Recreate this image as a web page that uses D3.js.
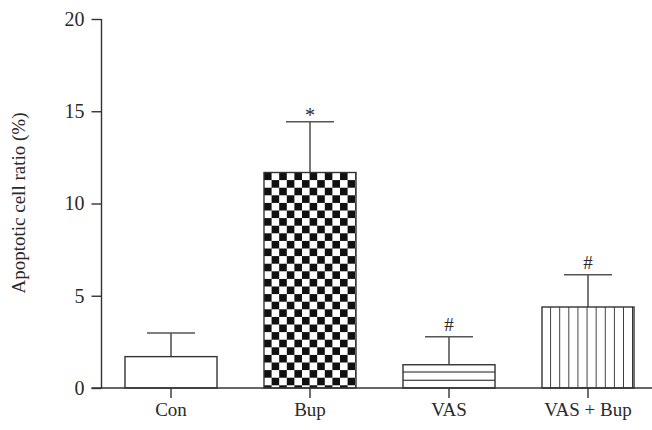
<!DOCTYPE html>
<html>
<head>
<meta charset="utf-8">
<script src="https://cdnjs.cloudflare.com/ajax/libs/d3/7.8.5/d3.min.js"></script>
<style>
  body { margin: 0; background: #fff; }
  text { font-family: "Liberation Serif", "DejaVu Serif", serif; fill: #2a2a2a; }
</style>
</head>
<body>
<div id="chart"></div>
<script>
// data
var groups = ["Con", "Bup", "VAS", "VAS + Bup"];
var means  = [1.70, 11.68, 1.26, 4.39];
var errs   = [1.28, 2.75, 1.52, 1.75];
var marks  = ["", "*", "#", "#"];
var fills  = ["none", "checker", "hlines", "vlines"];
var yTicks = [0, 5, 10, 15, 20];

var W = 652, H = 430;
var x0 = 101.5, yBase = 388, yTop = 19;

var svg = d3.select("#chart").append("svg")
  .attr("width", W).attr("height", H);

var x = d3.scaleBand().domain(groups).range([x0, x0 + 139 * 4]).paddingInner(0.338).paddingOuter(0.169);
var y = d3.scaleLinear().domain([0, 20]).range([yBase, yTop]);

var defs = svg.append("defs");
var cell = 7.6;

// checkerboard, anchored at top-left of Bup bar
var chk = defs.append("pattern").attr("id", "checker")
  .attr("patternUnits", "userSpaceOnUse")
  .attr("x", x("Bup")).attr("y", y(means[1]))
  .attr("width", cell * 2).attr("height", cell * 2);
chk.append("rect").attr("width", cell * 2).attr("height", cell * 2).attr("fill", "#fff");
chk.append("rect").attr("width", cell).attr("height", cell).attr("fill", "#111");
chk.append("rect").attr("x", cell).attr("y", cell).attr("width", cell).attr("height", cell).attr("fill", "#111");

// horizontal lines
var hp = defs.append("pattern").attr("id", "hlines")
  .attr("patternUnits", "userSpaceOnUse")
  .attr("x", 0).attr("y", yBase - 7.3 - 8.2)
  .attr("width", 10).attr("height", 8.2);
hp.append("rect").attr("width", 10).attr("height", 8.2).attr("fill", "#fff");
hp.append("rect").attr("y", 7.2).attr("width", 10).attr("height", 2).attr("fill", "#111");

// vertical lines
var vp = defs.append("pattern").attr("id", "vlines")
  .attr("patternUnits", "userSpaceOnUse")
  .attr("x", x("VAS + Bup")).attr("y", 0)
  .attr("width", 9.1).attr("height", 10);
vp.append("rect").attr("width", 9.1).attr("height", 10).attr("fill", "#fff");
vp.append("rect").attr("x", 8.3).attr("width", 1.9).attr("height", 10).attr("fill", "#111");

// error bars (drawn first so the bar covers the lower part)
var eb = svg.append("g").attr("stroke", "#555").attr("stroke-width", 1.6);
groups.forEach(function(g, i) {
  var cx = x(g) + x.bandwidth() / 2;
  eb.append("line").attr("x1", cx).attr("x2", cx)
    .attr("y1", y(means[i])).attr("y2", y(means[i] + errs[i]));
  eb.append("line").attr("x1", cx - 24).attr("x2", cx + 24)
    .attr("y1", y(means[i] + errs[i])).attr("y2", y(means[i] + errs[i]));
});

svg.selectAll("rect.bar").data(groups).enter().append("rect")
  .attr("class", "bar")
  .attr("x", function(d) { return x(d); })
  .attr("y", function(d, i) { return y(means[i]); })
  .attr("width", x.bandwidth())
  .attr("height", function(d, i) { return yBase - y(means[i]); })
  .attr("fill", function(d, i) { return fills[i] == "none" ? "#fff" : "url(#" + fills[i] + ")"; })
  .attr("stroke", "#333").attr("stroke-width", 1.4);

// significance marks
svg.selectAll("text.mark").data(groups).enter().append("text")
  .attr("class", "mark")
  .attr("x", function(d) { return x(d) + x.bandwidth() / 2; })
  .attr("y", function(d, i) { return y(means[i] + errs[i]) - (marks[i] == "*" ? 0 : 6); })
  .attr("text-anchor", "middle")
  .style("font-size", function(d, i) { return marks[i] == "*" ? "20px" : "19px"; })
  .text(function(d, i) { return marks[i]; });

// y axis
var yAxis = d3.axisLeft(y).tickValues(yTicks).tickSize(10).tickPadding(7);
var gy = svg.append("g").attr("transform", "translate(" + x0 + ",0)").call(yAxis);
gy.select(".domain").attr("stroke", "#333").attr("stroke-width", 1.4).attr("d", "M0," + yTop + "V" + yBase);
gy.selectAll(".tick line").attr("stroke", "#333").attr("stroke-width", 1.4);
gy.selectAll(".tick text").style("font-size", "20px").attr("fill", "#2a2a2a");

// x axis
var xAxis = d3.axisBottom(x).tickSize(10).tickPadding(5);
var gx = svg.append("g").attr("transform", "translate(0," + yBase + ")").call(xAxis);
gx.select(".domain").attr("stroke", "#333").attr("stroke-width", 1.4).attr("d", "M" + (x0 - 10) + ",0H" + W);
gx.selectAll(".tick line").attr("stroke", "#333").attr("stroke-width", 1.4);
gx.selectAll(".tick text").style("font-size", "19px").attr("fill", "#2a2a2a");

svg.append("text")
  .attr("transform", "translate(25," + 203 + ") rotate(-90)")
  .attr("text-anchor", "middle")
  .style("font-size", "19px")
  .text("Apoptotic cell ratio (%)");
</script>
</body>
</html>
